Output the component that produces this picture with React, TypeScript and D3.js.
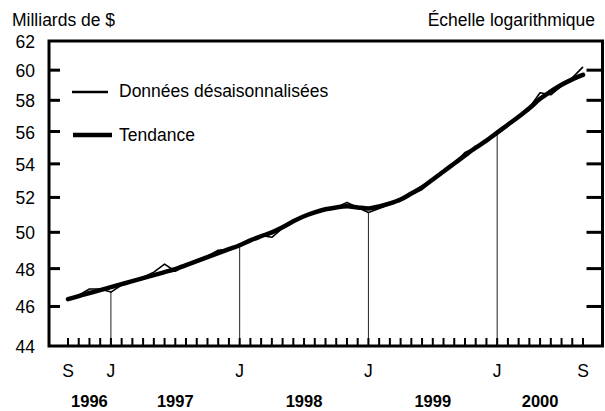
import React from "react";
import * as d3 from "d3";

// monthly, Sept 1996 .. Sept 2000
const months = d3.timeMonth.range(new Date(1996, 8, 1), new Date(2000, 9, 1));

// seasonally adjusted data, billions of $
const rawValues = [
  46.38, 46.59, 46.91, 46.91, 46.75, 47.12, 47.33, 47.54, 47.81, 48.24, 47.86, 48.19,
  48.4, 48.67, 49.0, 49.06, 49.33, 49.55, 49.83, 49.72, 50.23, 50.62, 50.91, 51.19,
  51.31, 51.42, 51.71, 51.42, 51.13, 51.36, 51.59, 51.88, 52.18, 52.47, 53.06, 53.54,
  54.02, 54.69, 54.99, 55.43, 55.86, 56.43, 56.94, 57.52, 58.49, 58.36, 58.95, 59.48,
  60.22,
];

const trendValues = [
  46.38, 46.54, 46.7, 46.85, 47.01, 47.17, 47.33, 47.49, 47.65, 47.81, 47.97, 48.19,
  48.4, 48.62, 48.84, 49.06, 49.28, 49.55, 49.78, 50.0, 50.28, 50.62, 50.91, 51.13,
  51.31, 51.42, 51.48, 51.42, 51.36, 51.48, 51.65, 51.88, 52.23, 52.59, 53.06, 53.54,
  54.02, 54.51, 54.99, 55.43, 55.93, 56.43, 56.94, 57.48, 58.1, 58.58, 59.02, 59.38,
  59.68,
];

const yLabels = [44, 46, 48, 50, 52, 54, 56, 58, 60, 62];
const yTicks = [46, 48, 50, 52, 54, 56, 58, 60];
const monthLetters = ["J", "F", "M", "A", "M", "J", "J", "A", "S", "O", "N", "D"];
const years = [1996, 1997, 1998, 1999, 2000];

const W = 605;
const H = 411;
const font = "'Liberation Sans', Arial, Helvetica, sans-serif";
const fs = 17.5;

export default function App() {
  const last = months.length - 1;
  const x = d3.scaleLinear().domain([0, last]).range([68, 583]);
  const y = d3.scaleLog().domain([44, 62]).range([346, 41]);

  const frame = { left: 49, top: 41, right: 602.5, bottom: 346 };

  const rawLine = d3
    .line<number>()
    .x((d, i) => x(i))
    .y((d) => y(d));
  const trendLine = d3
    .line<number>()
    .x((d, i) => x(i))
    .y((d) => y(d))
    .curve(d3.curveMonotoneX);

  // labelled months: first, januaries, last
  const labelled = months
    .map((m, i) => ({ m, i }))
    .filter(({ m, i }) => i === 0 || i === last || m.getMonth() === 0);
  const januaries = months.map((m, i) => ({ m, i })).filter(({ m }) => m.getMonth() === 0);

  const yearSpans = years.map((yr) => {
    const idx = months.map((m, i) => (m.getFullYear() === yr ? i : -1)).filter((i) => i >= 0);
    const start = idx[0];
    const end = Math.min(last, idx[idx.length - 1] + 1);
    return { yr, cx: (x(start) + x(end)) / 2 };
  });

  return (
    <svg
      width={W}
      height={H}
      style={{ position: "absolute", left: 0, top: 0, background: "#fff" }}
      fontFamily={font}
    >
      <text x={12} y={26} fontSize={fs}>Milliards de $</text>
      <text x={595} y={26} fontSize={fs} textAnchor="end">Échelle logarithmique</text>

      {/* y labels */}
      {yLabels.map((v) => (
        <text key={v} x={35} y={y(v) + 7} fontSize={fs} textAnchor="end">
          {v}
        </text>
      ))}

      {/* january reference lines */}
      {januaries.map(({ i }) => (
        <line
          key={"v" + i}
          x1={x(i)}
          x2={x(i)}
          y1={frame.bottom}
          y2={y(rawValues[i])}
          stroke="#222"
          strokeWidth={1}
        />
      ))}

      {/* month ticks */}
      {months.map((m, i) => (
        <line key={"t" + i} x1={x(i)} x2={x(i)} y1={frame.bottom} y2={frame.bottom - 8} stroke="#000" strokeWidth={2} />
      ))}

      {/* y ticks both sides */}
      {yTicks.map((v) => (
        <g key={"yt" + v}>
          <line x1={frame.left} x2={frame.left + 11} y1={y(v)} y2={y(v)} stroke="#000" strokeWidth={3} />
          <line x1={frame.right - 16} x2={frame.right} y1={y(v)} y2={y(v)} stroke="#000" strokeWidth={3} />
        </g>
      ))}

      {/* frame */}
      <rect
        x={frame.left}
        y={frame.top}
        width={frame.right - frame.left}
        height={frame.bottom - frame.top}
        fill="none"
        stroke="#000"
        strokeWidth={3}
      />

      {/* series */}
      <path d={trendLine(trendValues) || ""} fill="none" stroke="#000" strokeWidth={4.5} strokeLinecap="round" strokeLinejoin="round" />
      <path d={rawLine(rawValues) || ""} fill="none" stroke="#000" strokeWidth={1.6} strokeLinejoin="round" />

      {/* legend */}
      <line x1={72} x2={108} y1={92} y2={92} stroke="#000" strokeWidth={2.5} />
      <text x={119} y={97} fontSize={fs}>Données désaisonnalisées</text>
      <line x1={73} x2={112} y1={135} y2={135} stroke="#000" strokeWidth={4.5} />
      <text x={119} y={141} fontSize={fs}>Tendance</text>

      {/* x labels */}
      {labelled.map(({ m, i }) => (
        <text key={"xl" + i} x={x(i)} y={377} fontSize={fs} textAnchor="middle">
          {monthLetters[m.getMonth()]}
        </text>
      ))}
      {yearSpans.map(({ yr, cx }) => (
        <text key={"yr" + yr} x={cx} y={407} fontSize={16.5} fontWeight="bold" textAnchor="middle">
          {yr}
        </text>
      ))}
    </svg>
  );
}
